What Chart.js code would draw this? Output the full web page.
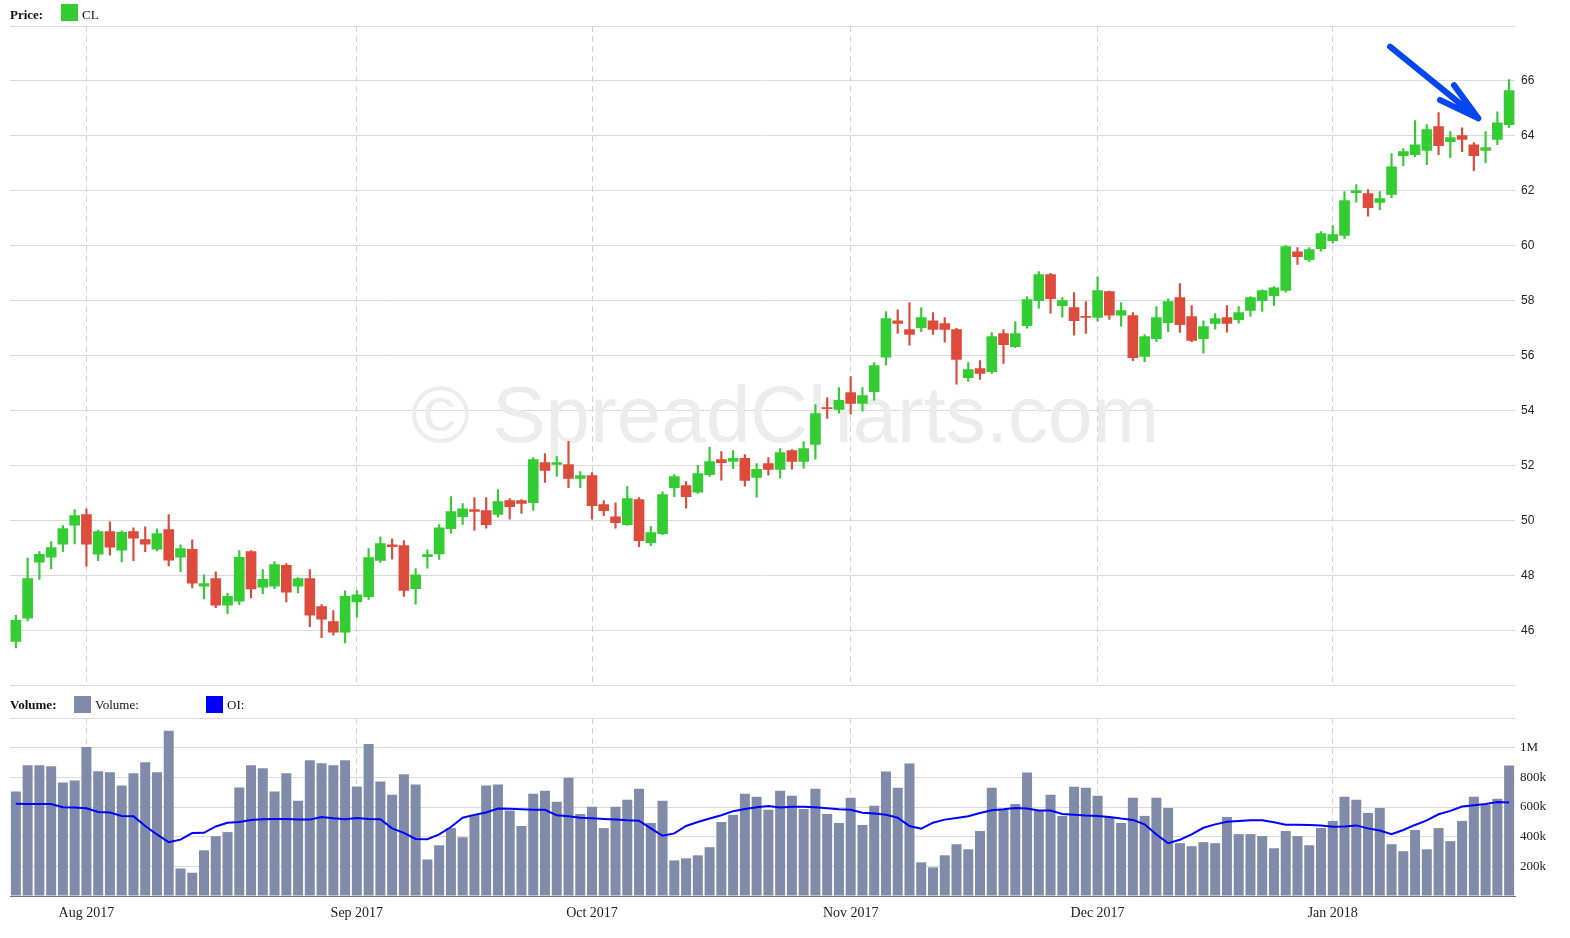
<!DOCTYPE html>
<html>
<head>
<meta charset="utf-8">
<title>CL price and volume</title>
<script src="https://cdn.jsdelivr.net/npm/chart.js@4.4.1/dist/chart.umd.min.js"></script>
<style>
body{margin:0;background:#fff;}
#wrap{position:relative;width:1570px;height:938px;overflow:hidden;}
canvas{position:absolute;left:0;}
.leg{position:absolute;font:13px 'Liberation Serif',serif;color:#111;white-space:nowrap;line-height:15px;}
.sw{position:absolute;width:17px;height:17px;}
</style>
</head>
<body>
<div id="wrap">
<canvas id="price" width="1570" height="699" style="top:0"></canvas>
<canvas id="vol" width="1570" height="248" style="top:691px"></canvas>
<div class="leg" style="left:10px;top:7px"><b>Price:</b></div>
<div class="sw" style="left:61px;top:4px;background:#33cc33"></div>
<div class="leg" style="left:82px;top:7px">CL</div>
<div class="leg" style="left:10px;top:697px"><b>Volume:</b></div>
<div class="sw" style="left:74px;top:696px;background:#7f8ba8"></div>
<div class="leg" style="left:95px;top:697px">Volume:</div>
<div class="sw" style="left:206px;top:696px;background:#0000ff"></div>
<div class="leg" style="left:227px;top:697px">OI:</div>
</div>
<script>
// daily CL candles, 24 Jul 2017 - 24 Jan 2018
var openP = [45.61,46.46,48.50,48.68,49.15,49.84,50.23,48.79,49.61,48.93,49.61,49.32,48.97,49.68,48.68,48.96,47.62,47.90,46.93,47.08,
  48.88,47.59,47.62,48.38,47.62,47.90,46.88,46.34,45.95,47.05,47.24,48.56,49.13,49.10,47.53,48.70,48.80,49.72,50.15,50.41,
  50.37,50.23,50.74,50.74,50.66,52.12,52.05,52.05,51.54,51.65,50.59,50.15,49.86,50.77,49.21,49.53,51.21,51.28,51.04,51.68,
  52.23,52.16,52.27,51.58,52.08,51.87,52.56,52.16,52.78,54.12,54.05,54.67,54.27,54.70,55.95,57.28,56.96,57.03,57.28,57.18,
  56.96,55.21,55.54,55.43,56.81,56.34,57.10,58.01,58.96,57.83,57.76,57.44,57.40,58.34,57.48,57.47,55.98,56.63,57.21,58.12,
  57.43,56.63,57.18,57.39,57.32,57.65,58.01,58.19,58.38,59.79,59.50,59.90,60.19,60.38,61.94,61.90,61.58,61.87,63.28,63.32,
  63.47,64.34,63.79,64.01,63.68,63.47,63.87,64.41];
var highP = [46.56,48.65,48.88,49.25,49.83,50.41,50.44,49.66,49.96,49.64,49.75,49.78,49.71,50.23,49.13,49.31,48.04,48.15,47.36,48.92,
  48.92,48.23,48.52,48.45,47.94,48.23,46.95,46.74,47.45,47.46,48.99,49.42,49.35,49.28,48.26,48.95,49.86,50.88,50.63,50.85,
  50.85,51.14,50.81,50.77,52.30,52.45,52.34,52.89,51.79,51.76,50.74,50.66,51.25,50.85,49.79,51.06,51.68,51.43,52.02,52.67,
  52.52,52.56,52.41,52.08,52.30,52.63,52.59,52.88,54.23,54.48,54.85,55.25,54.85,55.76,57.61,57.68,57.94,57.76,57.58,57.39,
  57.00,55.76,55.83,56.85,56.96,57.25,58.16,59.07,59.00,58.12,58.30,57.98,58.88,58.36,57.94,57.58,56.78,57.79,58.08,58.63,
  57.83,57.28,57.54,57.83,57.79,58.16,58.40,58.52,60.01,59.94,59.94,60.52,60.74,61.98,62.23,62.05,61.98,63.36,63.54,64.56,
  64.41,64.85,64.16,64.30,63.76,64.16,64.88,66.05];
var lowP = [45.38,46.36,47.87,48.25,48.88,49.16,48.35,48.55,48.75,48.51,48.55,48.88,48.91,48.36,48.15,47.56,47.16,46.84,46.62,46.95,
  47.20,47.35,47.53,47.05,47.38,46.15,45.75,45.84,45.56,46.50,47.14,48.49,48.61,47.25,46.97,48.28,48.60,49.55,49.87,49.65,
  49.73,50.13,50.06,50.27,50.38,51.40,51.62,51.21,51.21,50.06,50.19,49.73,49.83,49.06,49.10,49.50,50.88,50.46,51.00,51.62,
  51.48,51.91,51.26,50.86,51.66,51.55,51.88,51.92,52.24,53.73,53.92,53.88,53.99,54.39,55.66,56.82,56.39,56.88,56.78,56.50,
  54.97,55.07,55.14,55.36,55.73,56.30,57.01,57.73,57.55,57.41,56.75,56.82,57.26,57.33,57.08,55.83,55.79,56.52,56.88,56.85,
  56.52,56.10,56.97,56.86,57.19,57.44,57.62,57.84,58.32,59.33,59.43,59.81,60.10,60.27,61.59,61.08,61.32,61.76,62.92,63.25,
  62.96,63.32,63.21,63.43,62.74,63.03,63.68,64.30];
var closeP = [46.38,47.90,48.78,49.03,49.72,50.19,49.15,49.61,49.04,49.58,49.37,49.15,49.54,48.57,48.99,47.73,47.72,46.93,47.25,48.67,
  47.52,47.87,48.41,47.41,47.90,46.57,46.42,45.95,47.25,47.31,48.66,49.17,49.06,47.47,48.04,48.77,49.75,50.34,50.44,50.34,
  49.86,50.70,50.52,50.63,52.23,51.83,52.12,51.54,51.65,50.55,50.37,49.93,50.81,49.28,49.57,50.96,51.61,50.88,51.72,52.16,
  52.12,52.27,51.47,51.87,51.87,52.48,52.16,52.63,53.90,54.08,54.38,54.27,54.56,55.65,57.36,57.18,56.78,57.39,56.96,56.96,
  55.87,55.50,55.36,56.70,56.41,56.81,58.05,58.96,58.08,58.01,57.28,57.40,58.38,57.48,57.65,55.94,56.70,57.39,57.98,57.14,
  56.56,57.07,57.36,57.18,57.58,58.12,58.38,58.48,59.98,59.61,59.87,60.45,60.41,61.65,62.01,61.39,61.72,62.88,63.43,63.68,
  64.23,63.65,63.94,63.87,63.28,63.58,64.48,65.65];
// thousands of contracts
var volumeK = [704,882,882,875,765,779,1005,841,834,745,827,902,834,1114,185,157,308,403,431,731,
  882,861,704,827,642,916,895,882,916,738,1025,772,683,820,752,246,342,458,396,547,
  745,752,576,472,689,710,635,798,553,601,458,601,649,723,492,642,240,254,274,329,
  499,547,689,669,581,710,676,587,723,553,492,662,479,608,839,730,894,227,193,274,
  349,315,438,730,581,621,832,574,683,540,737,730,676,533,492,662,540,662,594,356,
  336,363,356,533,417,417,404,322,438,404,342,458,506,669,649,560,594,349,302,445,
  315,458,370,506,669,615,655,880];
var oiK = [622,620,620,620,599,597,592,567,563,540,538,472,415,362,380,424,426,469,494,499,
  513,517,519,519,515,515,533,524,517,526,519,517,456,426,385,383,415,465,528,547,
  563,590,588,584,581,581,544,538,528,524,519,515,510,508,456,406,422,472,499,522,
  544,572,587,599,606,597,601,601,599,592,585,581,562,556,547,528,472,454,494,515,
  526,538,560,578,585,594,590,576,576,553,547,542,540,533,522,513,483,415,356,379,
  415,460,483,501,506,510,510,497,481,481,479,476,467,469,476,456,442,417,445,479,
  510,551,574,603,612,621,633,630];
var holidays = ['2017-09-04','2017-11-23','2017-12-25','2018-01-01','2018-01-15'];
var monthNames = ['Jan','Feb','Mar','Apr','May','Jun','Jul','Aug','Sep','Oct','Nov','Dec'];
// arrow drawn on the price panel, in [day index, price]
var arrowShaft = [[116.87, 67.25], [124.38, 64.64]];
var arrowHead = [[121.12, 65.31], [124.38, 64.64], [122.31, 65.85]];

var green = '#33cc33', red = '#dc4b3c';
var gridCol = '#dadada', dashCol = '#d2d2d2';

var dates = [];
var d = new Date(Date.UTC(2017, 6, 24));
while (dates.length < closeP.length) {
  var wd = d.getUTCDay();
  var iso = d.toISOString().slice(0, 10);
  if (wd > 0 && wd < 6 && holidays.indexOf(iso) < 0) dates.push(new Date(d.getTime()));
  d.setUTCDate(d.getUTCDate() + 1);
}
var labels = dates.map(function(x){ return x.toISOString().slice(0, 10); });
function isMonthStart(i) {
  return i > 0 && dates[i] && dates[i].getUTCMonth() != dates[i-1].getUTCMonth();
}
function monthLabel(i) {
  return monthNames[dates[i].getUTCMonth()] + ' ' + dates[i].getUTCFullYear();
}
function candleCol(ctx) {
  var i = ctx.dataIndex;
  return closeP[i] >= openP[i] ? green : red;
}

Chart.defaults.font.family = "'Liberation Serif', serif";
Chart.defaults.color = '#222';

var monthGrid = {
  offset: false,
  drawTicks: false,
  color: function(ctx){ return isMonthStart(ctx.index) ? dashCol : 'rgba(0,0,0,0)'; }
};

var decor = {
  id: 'decor',
  beforeDatasetsDraw: function(chart) {
    var a = chart.chartArea, c = chart.ctx;
    c.save();
    c.font = "80px 'Liberation Sans', Arial, sans-serif";
    c.fillStyle = '#ececec';
    c.textAlign = 'center';
    c.textBaseline = 'alphabetic';
    c.fillText('\u00a9 SpreadCharts.com', a.left + 0.515 * (a.right - a.left), a.top + 0.631 * (a.bottom - a.top));
    c.restore();
  },
  afterDatasetsDraw: function(chart) {
    var x = chart.scales.x, y = chart.scales.y, c = chart.ctx;
    function px(p){ return [x.getPixelForValue(p[0]), y.getPixelForValue(p[1])]; }
    c.save();
    c.strokeStyle = '#0646ee';
    c.lineWidth = 6;
    c.lineCap = 'round';
    c.lineJoin = 'round';
    c.beginPath();
    var s0 = px(arrowShaft[0]), s1 = px(arrowShaft[1]);
    c.moveTo(s0[0], s0[1]); c.lineTo(s1[0], s1[1]);
    var h = arrowHead.map(px);
    c.moveTo(h[0][0], h[0][1]); c.lineTo(h[1][0], h[1][1]); c.lineTo(h[2][0], h[2][1]);
    c.stroke();
    c.restore();
  }
};

new Chart(document.getElementById('price'), {
  type: 'bar',
  data: {
    labels: labels,
    datasets: [{
      data: openP.map(function(o, i){ return [o, closeP[i]]; }),
      backgroundColor: candleCol,
      barThickness: 10,
      grouped: false,
      borderWidth: 0
    }, {
      data: lowP.map(function(l, i){ return [l, highP[i]]; }),
      backgroundColor: candleCol,
      barThickness: 1.5,
      grouped: false,
      borderWidth: 0
    }]
  },
  options: {
    responsive: false,
    animation: false,
    devicePixelRatio: 1,
    layout: { padding: { left: 10, top: 26, right: 0, bottom: 4 } },
    plugins: { legend: { display: false }, tooltip: { enabled: false } },
    scales: {
      x: {
        offset: true,
        grid: monthGrid,
        border: { display: false, dash: [6, 4] },
        ticks: { display: false },
        afterFit: function(s){ s.height = 0; }
      },
      y: {
        position: 'right',
        min: 44, max: 68,
        grid: { color: gridCol, drawTicks: false },
        border: { display: false },
        ticks: {
          stepSize: 2, padding: 6,
          font: { family: "'Liberation Sans', Arial, sans-serif", size: 12 },
          color: '#222',
          callback: function(v){ return (v == 44 || v == 68) ? '' : v; }
        },
        afterFit: function(s){ s.width = 55; }
      }
    }
  },
  plugins: [decor]
});

new Chart(document.getElementById('vol'), {
  type: 'bar',
  data: {
    labels: labels,
    datasets: [{
      type: 'line',
      data: oiK.map(function(v){ return v * 1000; }),
      borderColor: '#0000ff',
      borderWidth: 2,
      pointRadius: 0,
      tension: 0,
      order: 0
    }, {
      data: volumeK.map(function(v){ return v * 1000; }),
      backgroundColor: '#7f8ba8',
      barPercentage: 0.85,
      categoryPercentage: 1,
      order: 1
    }]
  },
  options: {
    responsive: false,
    animation: false,
    devicePixelRatio: 1,
    layout: { padding: { left: 10, top: 27, right: 0, bottom: 0 } },
    plugins: { legend: { display: false }, tooltip: { enabled: false } },
    scales: {
      x: {
        offset: true,
        grid: monthGrid,
        border: { display: true, color: '#6d7080', dash: [6, 4] },
        ticks: {
          autoSkip: false, maxRotation: 0, padding: 9,
          font: { size: 14 },
          callback: function(v, i){ return isMonthStart(i) ? monthLabel(i) : ''; }
        },
        afterFit: function(s){ s.height = 43; }
      },
      y: {
        position: 'right',
        min: 0, max: 1200000,
        grid: { color: gridCol, drawTicks: false },
        border: { display: false },
        ticks: {
          stepSize: 200000, padding: 5,
          font: { size: 13 },
          callback: function(v){
            if (v == 0 || v == 1200000) return '';
            return v >= 1000000 ? (v / 1000000) + 'M' : (v / 1000) + 'k';
          }
        },
        afterFit: function(s){ s.width = 55; }
      }
    }
  }
});
</script>
</body>
</html>
